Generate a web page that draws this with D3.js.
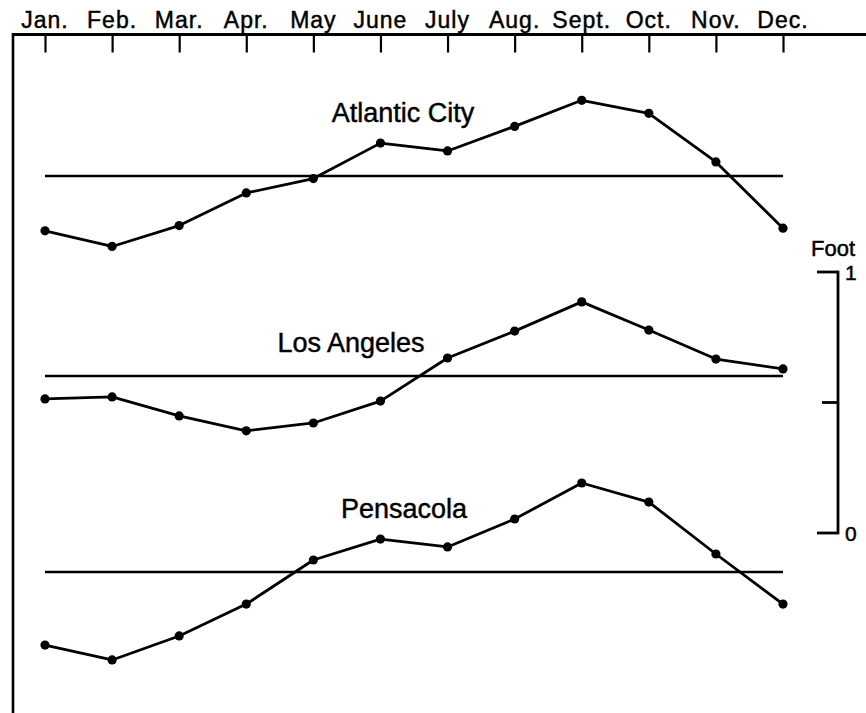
<!DOCTYPE html>
<html>
<head>
<meta charset="utf-8">
<script src="https://cdn.jsdelivr.net/npm/d3@7"></script>
<style>
  html, body { margin: 0; padding: 0; background: #fff; }
  svg { display: block; }
  text { font-family: "Liberation Sans", Arial, Helvetica, sans-serif; fill: #000; stroke: #000; stroke-width: 0.45px; }
</style>
</head>
<body>
<svg id="chart" width="866" height="713"></svg>
<script>
// ---- Data (deviation from mean sea level, in feet) ----
const months = ["Jan.", "Feb.", "Mar.", "Apr.", "May", "June", "July", "Aug.", "Sept.", "Oct.", "Nov.", "Dec."];
const stations = ["Atlantic City", "Los Angeles", "Pensacola"];
const atlanticCity = [-0.21, -0.27, -0.19, -0.065, -0.01, 0.126, 0.096, 0.19, 0.29, 0.24, 0.054, -0.20];
const losAngeles   = [-0.088, -0.08, -0.153, -0.21, -0.18, -0.096, 0.069, 0.172, 0.284, 0.176, 0.065, 0.027];
const pensacola    = [-0.28, -0.337, -0.245, -0.123, 0.046, 0.126, 0.096, 0.203, 0.341, 0.268, 0.069, -0.123];
const seriesValues = [atlanticCity, losAngeles, pensacola];
const scaleTicks = [0, 0.5, 1];
const scaleLabels = ["0", "", "1"];
const scaleUnit = "Foot";

// ---- Layout ----
const W = 866, H = 713;
const pxPerFoot = 261;
const frameTop = 34.5, frameLeft = 13;
const panelBase = [176, 376, 572];           // y of each station's mean line
const labelPos = [[403, 122], [351, 352], [404, 518]];
const scaleBarX = 838, scaleBarZeroY = 533;

const svg = d3.select("#chart");

const x = d3.scalePoint().domain(months).range([45, 783]);

// Top axis with month labels
const axisTop = d3.axisBottom(x).tickSize(18).tickFormat("");
const gAxis = svg.append("g").attr("transform", `translate(0,${frameTop})`).call(axisTop);
gAxis.select(".domain").remove();
gAxis.selectAll(".tick line").attr("stroke", "#000").attr("stroke-width", 2.2);

svg.append("g").selectAll("text").data(months).join("text")
  .attr("x", d => x(d))
  .attr("y", 28)
  .attr("text-anchor", "middle")
  .attr("font-size", 23)
  .attr("letter-spacing", 1)
  .text(d => d);

// Frame lines
svg.append("line").attr("x1", frameLeft).attr("x2", W).attr("y1", frameTop).attr("y2", frameTop)
  .attr("stroke", "#000").attr("stroke-width", 3);
svg.append("line").attr("x1", frameLeft).attr("x2", frameLeft).attr("y1", frameTop - 1.5).attr("y2", H)
  .attr("stroke", "#000").attr("stroke-width", 2.6);

// Panels
stations.forEach((name, i) => {
  const y = d3.scaleLinear().domain([0, 1]).range([panelBase[i], panelBase[i] - pxPerFoot]);
  const g = svg.append("g");
  // mean line
  g.append("line")
    .attr("x1", x(months[0])).attr("x2", x(months[months.length - 1]))
    .attr("y1", y(0)).attr("y2", y(0))
    .attr("stroke", "#000").attr("stroke-width", 2.5);
  const pts = months.map((m, j) => [m, seriesValues[i][j]]);
  g.append("path").datum(pts)
    .attr("fill", "none").attr("stroke", "#000").attr("stroke-width", 2.8)
    .attr("stroke-linejoin", "round")
    .attr("d", d3.line().x(d => x(d[0])).y(d => y(d[1])));
  g.selectAll("circle").data(pts).join("circle")
    .attr("cx", d => x(d[0])).attr("cy", d => y(d[1])).attr("r", 4.6)
    .attr("fill", "#000");
  g.append("text")
    .attr("x", labelPos[i][0]).attr("y", labelPos[i][1])
    .attr("text-anchor", "middle").attr("font-size", 27)
    .text(name);
});

// Scale bar (1 foot)
const ys = d3.scaleLinear().domain([0, 1]).range([scaleBarZeroY, scaleBarZeroY - pxPerFoot]);
const gs = svg.append("g");
gs.append("line").attr("x1", scaleBarX).attr("x2", scaleBarX)
  .attr("y1", ys(1) - 1.3).attr("y2", ys(0) + 1.3)
  .attr("stroke", "#000").attr("stroke-width", 2.8);
gs.selectAll("line.tk").data(scaleTicks).join("line").attr("class", "tk")
  .attr("x1", d => d === 0.5 ? scaleBarX - 16 : scaleBarX - 21).attr("x2", scaleBarX)
  .attr("y1", d => ys(d)).attr("y2", d => ys(d))
  .attr("stroke", "#000").attr("stroke-width", 2.8);
gs.selectAll("text.lb").data(scaleTicks).join("text").attr("class", "lb")
  .attr("x", scaleBarX + 7).attr("y", d => ys(d) + 8)
  .attr("font-size", 21)
  .attr("font-family", "'DejaVu Sans', sans-serif")
  .text((d, i) => scaleLabels[i]);
gs.append("text").attr("x", 833).attr("y", 256)
  .attr("text-anchor", "middle").attr("font-size", 22)
  .text(scaleUnit);
</script>
</body>
</html>
